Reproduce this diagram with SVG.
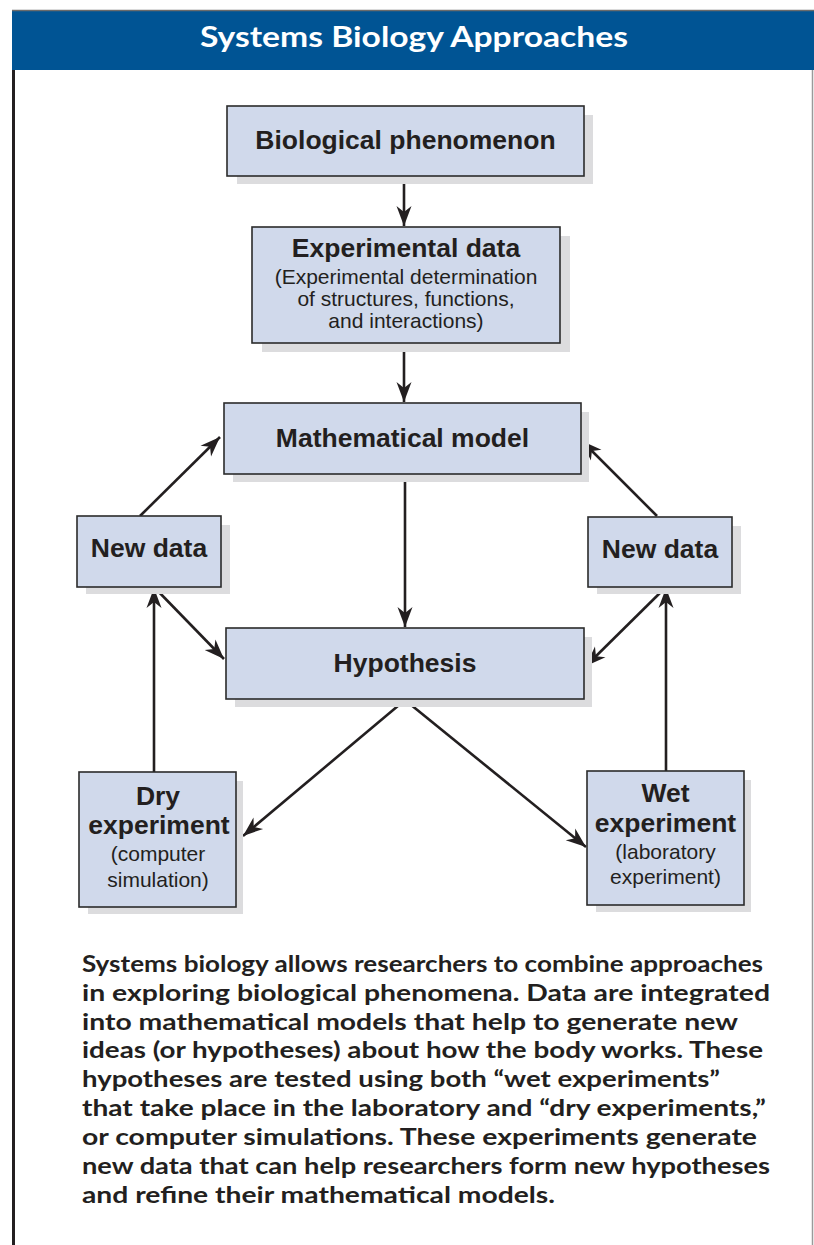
<svg xmlns="http://www.w3.org/2000/svg" width="814" height="1245" viewBox="0 0 814 1245">
<style>
.box{fill:#D0D9EB;stroke:#2B2B2B;stroke-width:1.6}
.sh{fill:#DCDCDE}
.t{font-family:"Liberation Sans",Arial,sans-serif;font-weight:bold;font-size:26.5px;fill:#231F20;text-anchor:middle}
.s{font-family:"Liberation Sans",Arial,sans-serif;font-size:21px;fill:#231F20;text-anchor:middle}
.c{font-family:Lato,"Open Sans",sans-serif;font-weight:bold;font-size:23px;fill:#231F20}
.ln{stroke:#231F20;stroke-width:2.6;fill:none;marker-end:url(#ah)}
</style>
<defs>
<marker id="ah" markerUnits="userSpaceOnUse" markerWidth="24" markerHeight="16" viewBox="-21 -8 24 16" refX="0" refY="0" orient="auto">
<path d="M0,0 L-20,-7.5 L-14,0 L-20,7.5 Z" fill="#231F20"/>
</marker>
</defs>
<rect x="0" y="0" width="814" height="1245" fill="#FFFFFF"/>
<g id="frame">
<rect x="12" y="10" width="802" height="60" fill="#005494"/>
<line x1="12" y1="10.5" x2="814" y2="10.5" stroke="#6B6B6B" stroke-width="1.5"/>
<line x1="13.5" y1="70" x2="13.5" y2="1245" stroke="#231F20" stroke-width="3"/>
<line x1="812.5" y1="70" x2="812.5" y2="1245" stroke="#9A9A9A" stroke-width="1.5"/>
<text x="414" y="47" font-family="Lato,'Open Sans',sans-serif" font-weight="bold" font-size="28" fill="#FFFFFF" text-anchor="middle" textLength="428" lengthAdjust="spacingAndGlyphs">Systems Biology Approaches</text>
</g>
<g id="connectors">
<line class="ln" x1="404" y1="176" x2="404" y2="226"/>
<line class="ln" x1="404" y1="343" x2="404" y2="402"/>
<line class="ln" x1="405" y1="474" x2="405" y2="627"/>
<line class="ln" x1="140" y1="516" x2="220" y2="437"/>
<line class="ln" x1="154" y1="587" x2="224" y2="659"/>
<line class="ln" x1="154" y1="772" x2="154" y2="588"/>
<line class="ln" x1="657" y1="516" x2="582" y2="441"/>
<line class="ln" x1="666" y1="587" x2="586" y2="666"/>
<line class="ln" x1="666" y1="771" x2="666" y2="588"/>
<line class="ln" x1="405" y1="700" x2="243" y2="836"/>
<line class="ln" x1="405" y1="700" x2="586" y2="847"/>
</g>
<g id="biological-phenomenon">
<rect class="sh" x="237" y="115" width="356" height="69"/>
<rect class="box" x="227" y="106" width="357" height="70"/>
<text class="t" x="405.5" y="149">Biological phenomenon</text>
</g>
<g id="experimental-data">
<rect class="sh" x="262" y="236" width="308" height="116"/>
<rect class="box" x="252" y="227" width="308" height="116"/>
<text class="t" x="406" y="257">Experimental data</text>
<text class="s" x="406" y="284">(Experimental determination</text>
<text class="s" x="406" y="306">of structures, functions,</text>
<text class="s" x="406" y="328">and interactions)</text>
</g>
<g id="mathematical-model">
<rect class="sh" x="233" y="412" width="356" height="70"/>
<rect class="box" x="224" y="403" width="357" height="71"/>
<text class="t" x="402.5" y="447">Mathematical model</text>
</g>
<g id="new-data-left">
<rect class="sh" x="86" y="525" width="144" height="69"/>
<rect class="box" x="77" y="516" width="144" height="71"/>
<text class="t" x="149" y="557">New data</text>
</g>
<g id="new-data-right">
<rect class="sh" x="597" y="526" width="144" height="68"/>
<rect class="box" x="588" y="517" width="144" height="70"/>
<text class="t" x="660" y="558">New data</text>
</g>
<g id="hypothesis">
<rect class="sh" x="235" y="637" width="357" height="70"/>
<rect class="box" x="226" y="628" width="358" height="71"/>
<text class="t" x="405" y="672">Hypothesis</text>
</g>
<g id="dry-experiment">
<rect class="sh" x="88" y="781" width="155" height="133"/>
<rect class="box" x="79" y="772" width="157" height="135"/>
<text class="t" x="158" y="805" font-size="25">Dry</text>
<text class="t" x="159" y="834" font-size="25">experiment</text>
<text class="s" x="158" y="861">(computer</text>
<text class="s" x="158" y="887">simulation)</text>
</g>
<g id="wet-experiment">
<rect class="sh" x="596" y="780" width="155" height="132"/>
<rect class="box" x="587" y="771" width="157" height="134"/>
<text class="t" x="665.5" y="802" font-size="26">Wet</text>
<text class="t" x="665.5" y="832" font-size="26">experiment</text>
<text class="s" x="665.5" y="859">(laboratory</text>
<text class="s" x="665.5" y="884">experiment)</text>
</g>
<g id="caption">
<text class="c" x="82" y="972" textLength="681" lengthAdjust="spacingAndGlyphs">Systems biology allows researchers to combine approaches</text>
<text class="c" x="82" y="1001" textLength="688" lengthAdjust="spacingAndGlyphs">in exploring biological phenomena. Data are integrated</text>
<text class="c" x="82" y="1030" textLength="656" lengthAdjust="spacingAndGlyphs">into mathematical models that help to generate new</text>
<text class="c" x="82" y="1058" textLength="681" lengthAdjust="spacingAndGlyphs">ideas (or hypotheses) about how the body works. These</text>
<text class="c" x="82" y="1087" textLength="638" lengthAdjust="spacingAndGlyphs">hypotheses are tested using both “wet experiments”</text>
<text class="c" x="82" y="1116" textLength="684" lengthAdjust="spacingAndGlyphs">that take place in the laboratory and “dry experiments,”</text>
<text class="c" x="82" y="1145" textLength="675" lengthAdjust="spacingAndGlyphs">or computer simulations. These experiments generate</text>
<text class="c" x="82" y="1174" textLength="688" lengthAdjust="spacingAndGlyphs">new data that can help researchers form new hypotheses</text>
<text class="c" x="82" y="1203" textLength="473" lengthAdjust="spacingAndGlyphs">and refine their mathematical models.</text>
</g>
</svg>
